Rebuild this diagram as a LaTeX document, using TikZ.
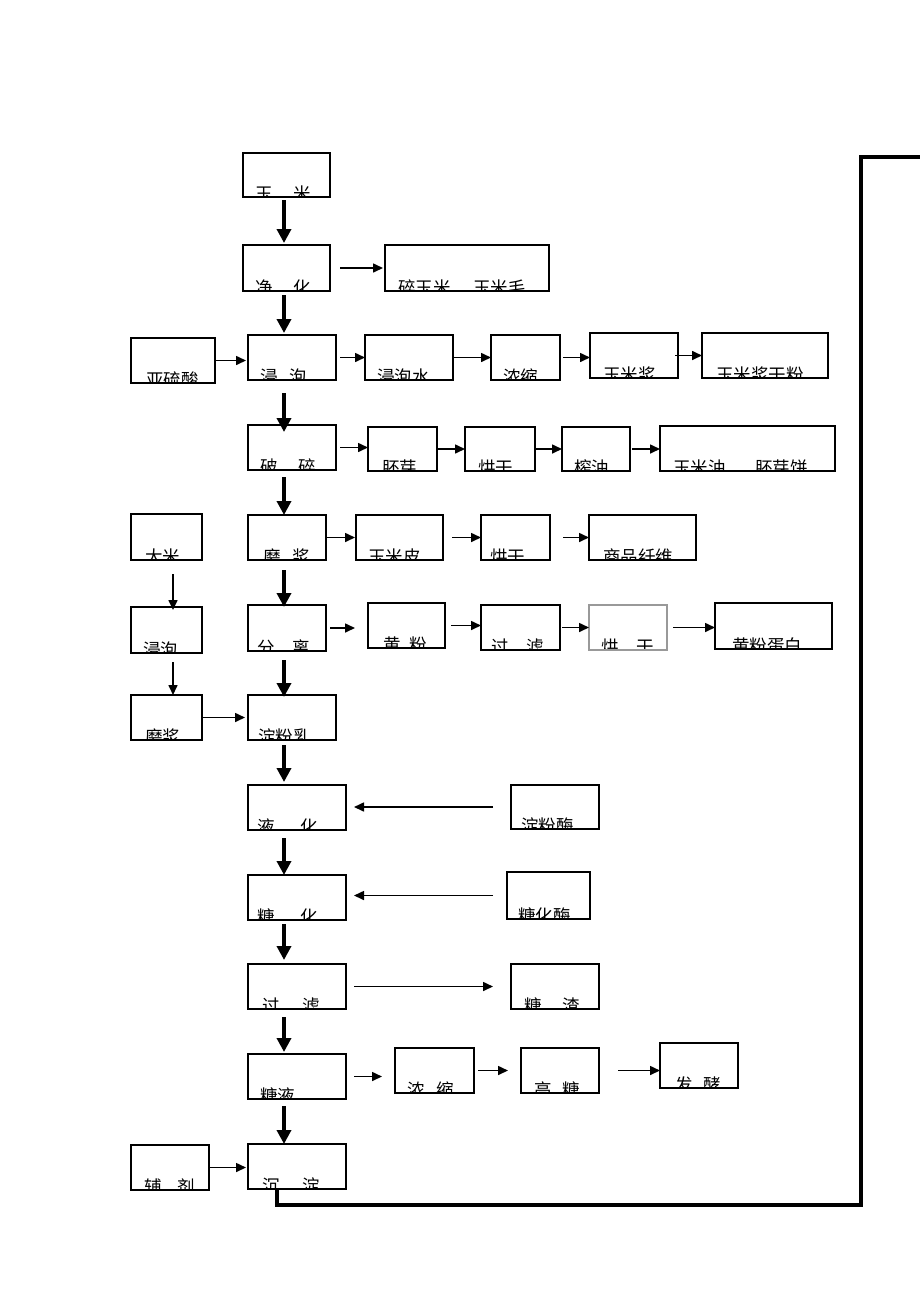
\documentclass[tikz,border=0pt]{standalone}
\usepackage{fontspec}
\newfontfamily\cjk{Noto Sans CJK SC}
\usetikzlibrary{arrows.meta,fit}
\tikzset{
  box/.style={draw=black, line width=1.2pt, inner sep=0pt, outer sep=0pt},
  graybox/.style={draw=black!40, line width=1.2pt, inner sep=0pt, outer sep=0pt},
  lbl/.style={anchor=base west, inner sep=0pt, font=\cjk\fontsize{17.5}{18}\selectfont},
  arr/.style={line width=1.6pt, -{Triangle[length=10pt,width=9pt]}},
  big/.style={line width=4.3pt, -{Triangle[length=14pt,width=14pt]}},
  loopline/.style={line width=4pt, line join=miter}
}
% name, x1, y1, x2, y2, text-x, text, box style
\newcommand\bx[8]{%
  \begin{scope}
    \clip (#2,#3) rectangle (#4,#5);
    \node[lbl] at (#6,#5+3) {#7};
  \end{scope}
  \node[#8, fit={(#2,#3) (#4,#5)}] (#1) {};
}
\newcommand\harr[4]{\draw[arr, shorten <=#3pt, shorten >=#4pt] (#1.east) -- (#1.east -| #2.west);}
\newcommand\larr[4]{\draw[arr, shorten <=#3pt, shorten >=#4pt] (#1.west) -- (#1.west -| #2.east);}
\newcommand\varr[4]{\draw[big, shorten <=#3pt, shorten >=#4pt] (#1.south -| col) -- (#2.north -| col);}
\newcommand\vtarr[4]{\draw[arr, shorten <=#3pt, shorten >=#4pt] (#1.south -| colb) -- (#2.north -| colb);}
\begin{document}
\begin{tikzpicture}[x=1pt,y=-1pt]
\useasboundingbox (0,0) rectangle (920,1301);
\coordinate (col) at (284,0);
\coordinate (colb) at (173,0);
% boxes
\bx{ym}{243}{153}{330}{197}{255}{玉\hspace{1.2em}米}{box}
\bx{jh}{243}{245}{330}{291}{255}{净\hspace{1.2em}化}{box}
\bx{sui}{385}{245}{549}{291}{398}{碎玉米、\hspace{0.3em}玉米毛}{box}
\bx{yls}{131}{338}{215}{383}{146}{亚硫酸}{box}
\bx{jp}{248}{335}{336}{380}{260}{浸\hspace{0.7em}泡}{box}
\bx{jps}{365}{335}{453}{380}{377}{浸泡水}{box}
\bx{nsa}{491}{335}{560}{380}{503}{浓缩}{box}
\bx{ymj}{590}{333}{678}{378}{603}{玉米浆}{box}
\bx{ymjf}{702}{333}{828}{378}{716}{玉米浆干粉}{box}
\bx{ps}{248}{425}{336}{470}{260}{破\hspace{1.2em}碎}{box}
\bx{py}{368}{427}{437}{471}{382}{胚芽}{box}
\bx{hga}{465}{427}{535}{471}{478}{烘干}{box}
\bx{zy}{562}{427}{630}{471}{574}{榨油}{box}
\bx{ymy}{660}{426}{835}{471}{673}{玉米油、\hspace{0.7em}胚芽饼}{box}
\bx{dm}{131}{514}{202}{560}{145}{大米}{box}
\bx{mj}{248}{515}{326}{560}{263}{磨\hspace{0.7em}浆}{box}
\bx{ymp}{356}{515}{443}{560}{368}{玉米皮}{box}
\bx{hgb}{481}{515}{550}{560}{490}{烘干}{box}
\bx{spxw}{589}{515}{696}{560}{603}{商品纤维}{box}
\bx{jpb}{131}{607}{202}{653}{143}{浸泡}{box}
\bx{fl}{248}{605}{326}{651}{257}{分\hspace{1em}离}{box}
\bx{hf}{368}{603}{445}{648}{383}{黄\hspace{0.5em}粉}{box}
\bx{gla}{481}{605}{560}{650}{491}{过\hspace{1em}滤}{box}
\bx{hgc}{589}{605}{667}{650}{601}{烘\hspace{1em}干}{graybox}
\bx{hfdb}{715}{603}{832}{649}{732}{黄粉蛋白}{box}
\bx{mjb}{131}{695}{202}{740}{145}{磨浆}{box}
\bx{dfr}{248}{695}{336}{740}{258}{淀粉乳}{box}
\bx{yh}{248}{785}{346}{830}{257}{液\hspace{1.5em}化}{box}
\bx{dfm}{511}{785}{599}{829}{521}{淀粉酶}{box}
\bx{th}{248}{875}{346}{920}{257}{糖\hspace{1.5em}化}{box}
\bx{thm}{507}{872}{590}{919}{518}{糖化酶}{box}
\bx{glb}{248}{964}{346}{1009}{262}{过\hspace{1.3em}滤}{box}
\bx{tz}{511}{964}{599}{1009}{524}{糖\hspace{1.2em}渣}{box}
\bx{ty}{248}{1054}{346}{1099}{260}{糖液}{box}
\bx{nsb}{395}{1048}{474}{1093}{407}{浓\hspace{0.7em}缩}{box}
\bx{gt}{521}{1048}{599}{1093}{534}{高\hspace{0.6em}糖}{box}
\bx{fj}{660}{1043}{738}{1088}{675}{发\hspace{0.6em}酵}{box}
\bx{fzj}{131}{1145}{209}{1190}{144}{辅\hspace{0.9em}剂}{box}
\bx{bot}{248}{1144}{346}{1189}{262}{沉\hspace{1.3em}淀}{box}
% main thick arrows
\varr{ym}{jh}{3}{2}
\varr{jh}{jp}{4}{2}
\varr{jp}{ps}{13}{-7}
\varr{ps}{mj}{7}{0}
\varr{mj}{fl}{10}{-2}
\varr{fl}{dfr}{9}{-2}
\varr{dfr}{yh}{5}{3}
\varr{yh}{th}{8}{0}
\varr{th}{glb}{4}{4}
\varr{glb}{ty}{8}{2}
\varr{ty}{bot}{7}{0}
% left column
\vtarr{dm}{jpb}{14}{-3}
\vtarr{jpb}{mjb}{9}{0}
\harr{mjb}{dfr}{0}{3}
% horizontal thin arrows
\harr{jh}{sui}{10}{2}
\harr{yls}{jp}{0}{2}
\harr{jp}{jps}{4}{0}
\harr{jps}{nsa}{0}{0}
\harr{nsa}{ymj}{3}{0}
\harr{ymj}{ymjf}{-3}{0}
\harr{ps}{py}{4}{0}
\harr{py}{hga}{0}{0}
\harr{hga}{zy}{0}{0}
\harr{zy}{ymy}{2}{0}
\harr{mj}{ymp}{0}{1}
\harr{ymp}{hgb}{9}{0}
\harr{hgb}{spxw}{13}{0}
\harr{fl}{hf}{4}{13}
\harr{hf}{gla}{6}{0}
\harr{gla}{hgc}{2}{0}
\harr{hgc}{hfdb}{6}{0}
\larr{dfm}{yh}{18}{8}
\larr{thm}{th}{14}{8}
\harr{glb}{tz}{8}{18}
\harr{ty}{nsb}{8}{13}
\harr{nsb}{gt}{4}{13}
\harr{gt}{fj}{19}{0}
\harr{fzj}{bot}{0}{2}
% return line
\coordinate (lx) at (277,0);
\coordinate (c1) at (861,1205);
\coordinate (c2) at (861,157);
\coordinate (c3) at (920,157);
\draw[loopline] (bot.south -| lx) |- (c1) -- (c2) -- (c3);
\end{tikzpicture}
\end{document}
